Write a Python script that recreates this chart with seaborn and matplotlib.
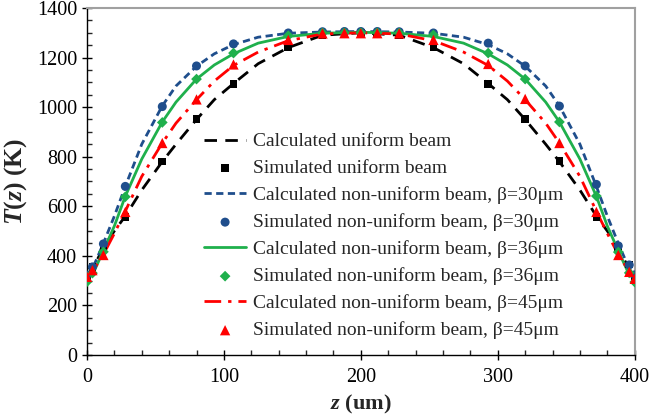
import matplotlib
matplotlib.use("Agg")
import matplotlib.pyplot as plt
from matplotlib.ticker import MultipleLocator
import seaborn as sns
import pandas as pd

# ---- data ----
z_calc = [0, 5, 12, 20, 28, 40, 55, 65, 80, 93, 107, 125, 147, 172, 200,
          228, 253, 275, 293, 307, 320, 335, 345, 360, 372, 380, 388, 395, 400]
calc_uniform = [315, 355, 435, 500, 560, 665, 780, 850, 950, 1030, 1095, 1175, 1240, 1290, 1300,
                1290, 1240, 1175, 1095, 1030, 950, 850, 780, 665, 560, 500, 435, 355, 315]
calc_b30 = [320, 360, 450, 560, 680, 850, 1005, 1085, 1165, 1215, 1252, 1282, 1298, 1303, 1305,
            1303, 1298, 1282, 1252, 1215, 1165, 1085, 1005, 850, 680, 560, 450, 360, 320]
calc_b36 = [300, 335, 420, 520, 640, 790, 940, 1020, 1113, 1170, 1215, 1258, 1285, 1298, 1302,
            1298, 1285, 1258, 1215, 1170, 1113, 1020, 940, 790, 640, 520, 420, 335, 300]
calc_b45 = [315, 345, 405, 490, 580, 720, 855, 935, 1030, 1105, 1168, 1222, 1268, 1295, 1300,
            1295, 1268, 1222, 1168, 1105, 1030, 935, 855, 720, 580, 490, 405, 345, 315]

z_sim = [0, 4, 12, 28, 55, 80, 107, 147, 172, 188, 200, 212, 228, 253, 293, 320, 345, 372, 388, 396, 400]
sim_uniform = [312, 355, 436, 557, 781, 952, 1093, 1240, 1291, 1296, 1298, 1296, 1291, 1240, 1093, 952, 783, 557, 436, 365, 318]
sim_b30 = [322, 355, 448, 680, 1002, 1166, 1255, 1299, 1304, 1305, 1305, 1305, 1304, 1299, 1258, 1166, 1004, 688, 440, 363, 323]
sim_b36 = [295, 330, 416, 638, 938, 1113, 1218, 1288, 1299, 1300, 1300, 1300, 1299, 1291, 1218, 1113, 940, 641, 415, 331, 294]
sim_b45 = [315, 342, 403, 577, 855, 1031, 1172, 1271, 1297, 1298, 1298, 1298, 1297, 1271, 1174, 1033, 855, 577, 403, 335, 307]

labels_calc = ["Calculated uniform beam",
               "Calculated non-uniform beam, \u03b2=30\u03bcm",
               "Calculated non-uniform beam, \u03b2=36\u03bcm",
               "Calculated non-uniform beam, \u03b2=45\u03bcm"]
labels_sim = ["Simulated uniform beam",
              "Simulated non-uniform beam, \u03b2=30\u03bcm",
              "Simulated non-uniform beam, \u03b2=36\u03bcm",
              "Simulated non-uniform beam, \u03b2=45\u03bcm"]

# ---- style ----
sns.set_style("ticks")
plt.rcParams["font.family"] = ["Liberation Serif", "DejaVu Serif"]
plt.rcParams["mathtext.fontset"] = "custom"
plt.rcParams["mathtext.it"] = "Liberation Serif:italic:bold"
plt.rcParams["mathtext.rm"] = "Liberation Serif:bold"
plt.rcParams["mathtext.bf"] = "Liberation Serif:bold"

colors = ["black", "#1f4e8c", "#1fb04c", "#ff0000"]
linestyles = [(0, (4.5, 3)), (0, (2.6, 1.6)), "-", (0, (6, 2.5, 1.2, 2.5))]
markers = ["s", "o", "D", "^"]
msizes = [30, 42, 30, 55]

fig = plt.figure(figsize=(6.49, 4.19), dpi=100)
ax = fig.add_axes([0.134, 0.153, 0.844, 0.828])

calc_series = [calc_uniform, calc_b30, calc_b36, calc_b45]
sim_series = [sim_uniform, sim_b30, sim_b36, sim_b45]

for i in range(4):
    dfc = pd.DataFrame({"z": z_calc, "T": calc_series[i]})
    sns.lineplot(data=dfc, x="z", y="T", ax=ax, color=colors[i], linestyle=linestyles[i],
                 linewidth=2.0, sort=False, label=labels_calc[i], zorder=2)
    dfs = pd.DataFrame({"z": z_sim, "T": sim_series[i]})
    sns.scatterplot(data=dfs, x="z", y="T", ax=ax, color=colors[i], marker=markers[i],
                    s=msizes[i], edgecolor="none", label=labels_sim[i], zorder=3)

ax.set_xlim(0, 400)
ax.set_ylim(0, 1400)
ax.xaxis.set_major_locator(MultipleLocator(100))
ax.xaxis.set_minor_locator(MultipleLocator(20))
ax.yaxis.set_major_locator(MultipleLocator(200))
ax.yaxis.set_minor_locator(MultipleLocator(50))
ax.tick_params(which="major", direction="inout", length=7, width=1.0, labelsize=14.5, colors="black")
ax.tick_params(axis="x", which="major", pad=6)
ax.tick_params(which="minor", direction="in", length=3.5, width=1.0)

for s in ["left", "bottom"]:
    ax.spines[s].set_color("black")
    ax.spines[s].set_linewidth(1.0)
for s in ["top", "right"]:
    ax.spines[s].set_visible(True)
    ax.spines[s].set_color("#a0a0a0")
    ax.spines[s].set_linewidth(1.5)

ax.set_xlabel(r"$z$ (um)", fontsize=16, fontweight="bold", labelpad=4)
ax.set_ylabel(r"$T(z)$ (K)", fontsize=18.5, fontweight="bold", labelpad=6)

handles, labs = ax.get_legend_handles_labels()
order = []
for i in range(4):
    order.append(labs.index(labels_calc[i]))
    order.append(labs.index(labels_sim[i]))
leg = ax.legend([handles[k] for k in order], [labs[k] for k in order],
                loc="upper left", bbox_to_anchor=(0.214, 0.64), frameon=False,
                fontsize=14.0, handlelength=2.15, handletextpad=0.35, labelspacing=0.47,
                borderaxespad=0, borderpad=0)

fig.savefig("out.png", dpi=100, facecolor="white")
